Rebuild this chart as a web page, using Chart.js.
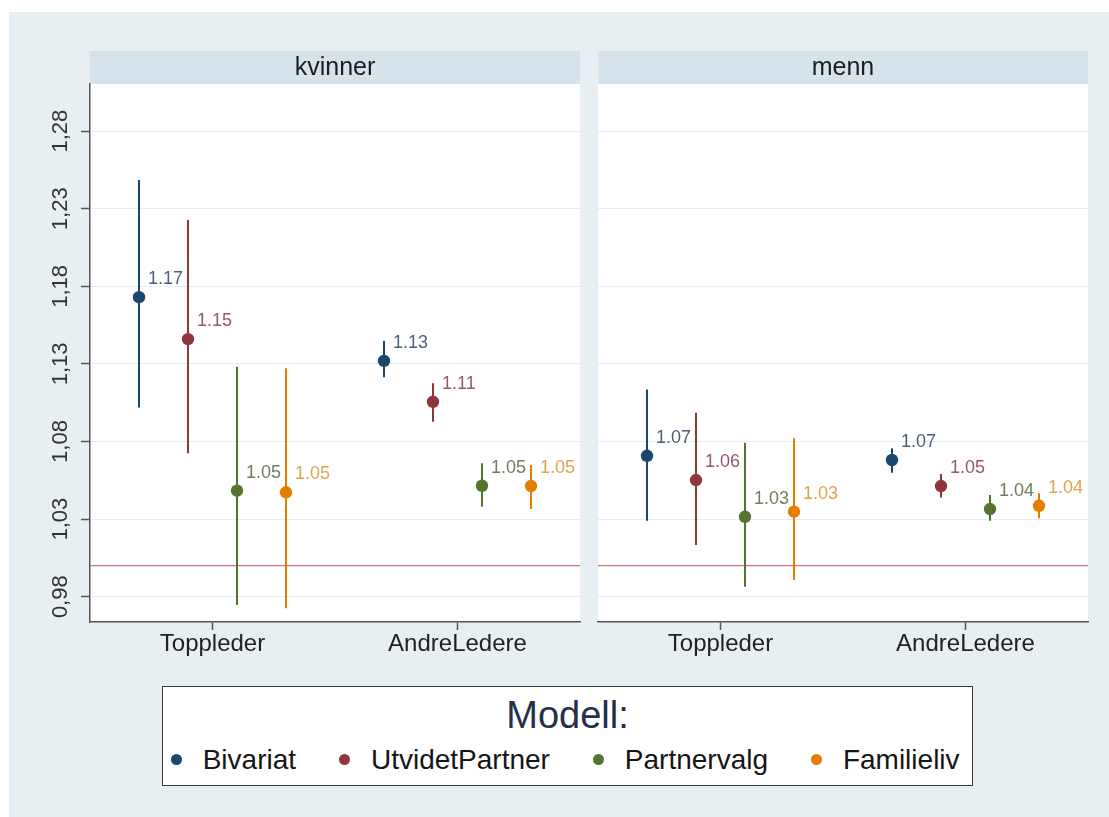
<!DOCTYPE html>
<html>
<head>
<meta charset="utf-8">
<title>Modell: kvinner og menn</title>
<script src="https://cdn.jsdelivr.net/npm/chart.js@4.4.1/dist/chart.umd.min.js"></script>
<style>
  html, body { margin: 0; padding: 0; background: #ffffff; }
  body { width: 1109px; height: 817px; position: relative; overflow: hidden;
         font-family: "Liberation Sans", Arial, Helvetica, sans-serif; }
  #graph { position: absolute; left: 9px; top: 12px; right: 0; bottom: 0; background: #e8eff2; }
  canvas { position: absolute; top: 0; }
  #panelLeft { left: 0; }
  #panelRight { left: 590px; }
  #legend { position: absolute; left: 162px; top: 686px; width: 811px; height: 100px;
            box-sizing: border-box; border: 1.5px solid #3a3a3a; background: #ffffff; }
  #legendTitle { position: absolute; left: 0; right: 0; top: 8.8px; text-align: center;
                 font-size: 38px; line-height: 38px; color: #252f4c; }
  #legendItems { position: absolute; left: 8.2px; top: 58.8px; display: flex; align-items: center;
                 font-size: 28px; line-height: 28px; color: #151515; white-space: nowrap; }
  .item { display: flex; align-items: center; margin-right: 43.4px; }
  .item:last-child { margin-right: 0; }
  .dot { width: 11px; height: 11px; border-radius: 50%; margin-right: 20.5px; }
</style>
</head>
<body>
<div id="graph"></div>
<canvas id="panelLeft" width="590" height="675"></canvas>
<canvas id="panelRight" width="519" height="675"></canvas>
<div id="legend">
  <div id="legendTitle"></div>
  <div id="legendItems"></div>
</div>
<script>
// Panels, categories and models
const panels = ['kvinner', 'menn'];
const categories = ['Toppleder', 'AndreLedere'];
const models = ['Bivariat', 'UtvidetPartner', 'Partnervalg', 'Familieliv'];
const legendTitle = 'Modell:';

// Estimates and confidence limits: one row per model, one column per category
const kvinnerEstimate = [[1.173, 1.132], [1.146, 1.1056], [1.0483, 1.0515], [1.0473, 1.0513]];
const kvinnerLower    = [[1.102, 1.1214], [1.0724, 1.0928], [0.9747, 1.038], [0.9725, 1.0365]];
const kvinnerUpper    = [[1.2485, 1.1448], [1.2227, 1.1175], [1.1282, 1.066], [1.1272, 1.0649]];

const mennEstimate = [[1.0708, 1.0681], [1.0552, 1.0513], [1.0315, 1.0365], [1.0348, 1.0386]];
const mennLower    = [[1.029, 1.0599], [1.0133, 1.044], [0.9864, 1.029], [0.9908, 1.0305]];
const mennUpper    = [[1.1136, 1.0756], [1.0986, 1.0591], [1.0792, 1.0455], [1.0821, 1.0466]];

// Axis setup
const yTicks = [0.98, 1.03, 1.08, 1.13, 1.18, 1.23, 1.28];
const yRange = [0.9637, 1.3104];
const xRange = [0.5, 2.5];
const referenceValue = 1.0;

// Stata s2color palette
const modelColors = ['#1a476f', '#90353b', '#55752f', '#e37e00'];
const labelColors = ['#4d5f76', '#945a64', '#6d7d5e', '#e5a24e'];
const FONT = '"Liberation Sans", Arial, Helvetica, sans-serif';

// Dodge the four models around each category position
const dodge = (modelIndex, catIndex) => catIndex + 1 + (modelIndex - 1.5) * 0.2;

function buildDatasets(est, lo, hi) {
  const sets = [{
    type: 'line',
    label: 'referanse',
    data: xRange.map(x => ({ x, y: referenceValue })),
    borderColor: '#c67880',
    borderWidth: 1.2,
    pointRadius: 0,
    order: 3
  }];
  models.forEach((m, i) => {
    const ci = [];
    categories.forEach((c, j) => {
      const x = dodge(i, j);
      ci.push({ x, y: lo[i][j] }, { x, y: hi[i][j] }, { x, y: null });
    });
    sets.push({
      type: 'scatter',
      label: m + ' KI',
      data: ci,
      showLine: true,
      spanGaps: false,
      borderColor: modelColors[i],
      borderWidth: 2,
      pointRadius: 0,
      pointHoverRadius: 0,
      order: 2
    });
    sets.push({
      type: 'scatter',
      label: m,
      data: categories.map((c, j) => ({ x: dodge(i, j), y: est[i][j] })),
      backgroundColor: modelColors[i],
      borderWidth: 0,
      pointRadius: 6.2,
      pointHoverRadius: 6.2,
      order: 1,
      valueLabel: true,
      labelColor: labelColors[i]
    });
  });
  return sets;
}

// White plot region plus the grey title strip above it
const panelFrame = {
  id: 'panelFrame',
  beforeDraw(chart, args, opts) {
    const { ctx, chartArea: a } = chart;
    ctx.save();
    ctx.fillStyle = '#ffffff';
    ctx.fillRect(a.left, a.top, a.right - a.left, a.bottom - a.top);
    const stripTop = 51;
    ctx.fillStyle = '#d7e3ea';
    ctx.fillRect(a.left, stripTop, a.right - a.left, a.top - stripTop);
    ctx.fillStyle = '#1e1e1e';
    ctx.font = '25px ' + FONT;
    ctx.textAlign = 'center';
    ctx.textBaseline = 'middle';
    ctx.fillText(opts.title, (a.left + a.right) / 2, (stripTop + a.top) / 2 + 1);
    ctx.restore();
  }
};

// Estimate written next to each marker
const valueLabels = {
  id: 'valueLabels',
  afterDatasetsDraw(chart) {
    const ctx = chart.ctx;
    chart.data.datasets.forEach((ds, di) => {
      if (!ds.valueLabel) return;
      const meta = chart.getDatasetMeta(di);
      ctx.save();
      ctx.font = '18px ' + FONT;
      ctx.fillStyle = ds.labelColor;
      ctx.textAlign = 'left';
      ctx.textBaseline = 'middle';
      meta.data.forEach((pt, k) => {
        ctx.fillText(ds.data[k].y.toFixed(2), pt.x + 9, pt.y - 18);
      });
      ctx.restore();
    });
  }
};

function buildScales(showY) {
  return {
    x: {
      type: 'linear',
      min: xRange[0],
      max: xRange[1],
      offset: false,
      afterBuildTicks: s => { s.ticks = categories.map((c, j) => ({ value: j + 1 })); },
      afterFit: s => { s.height = 40; },
      ticks: {
        callback: v => categories[Math.round(v) - 1],
        font: { size: 24, family: FONT },
        color: '#222222',
        padding: 0,
        maxRotation: 0,
        autoSkip: false
      },
      grid: { drawOnChartArea: false, drawTicks: true, tickLength: 8, tickColor: '#555555', tickWidth: 1.5, offset: false },
      border: { display: true, color: '#555555', width: 1.5 }
    },
    y: {
      type: 'linear',
      min: yRange[0],
      max: yRange[1],
      afterBuildTicks: s => { s.ticks = yTicks.map(v => ({ value: v })); },
      afterFit: s => { s.width = showY ? 40 : 0; },
      ticks: {
        display: showY,
        callback: v => v.toFixed(2).replace('.', ','),
        font: { size: 22, family: FONT },
        color: '#333333',
        minRotation: 90,
        maxRotation: 90,
        crossAlign: 'center',
        padding: -1
      },
      grid: { color: '#e6edf0', lineWidth: 1, drawTicks: showY, tickLength: 9, tickColor: '#555555', tickWidth: 1.5 },
      border: { display: showY, color: '#555555', width: 1.5 }
    }
  };
}

function makePanel(canvasId, title, est, lo, hi, showY, padding) {
  return new Chart(document.getElementById(canvasId), {
    type: 'scatter',
    data: { datasets: buildDatasets(est, lo, hi) },
    options: {
      responsive: false,
      maintainAspectRatio: false,
      animation: false,
      events: [],
      layout: { padding },
      scales: buildScales(showY),
      plugins: {
        legend: { display: false },
        tooltip: { enabled: false },
        panelFrame: { title }
      }
    },
    plugins: [panelFrame, valueLabels]
  });
}

makePanel('panelLeft', panels[0], kvinnerEstimate, kvinnerLower, kvinnerUpper, true,
  { left: 50, right: 10, top: 84, bottom: 13 });
makePanel('panelRight', panels[1], mennEstimate, mennLower, mennUpper, false,
  { left: 8, right: 21, top: 84, bottom: 13 });

// Legend
document.getElementById('legendTitle').textContent = legendTitle;
const itemsEl = document.getElementById('legendItems');
models.forEach((m, i) => {
  const item = document.createElement('div');
  item.className = 'item';
  const dot = document.createElement('span');
  dot.className = 'dot';
  dot.style.background = modelColors[i];
  const txt = document.createElement('span');
  txt.textContent = m;
  item.appendChild(dot);
  item.appendChild(txt);
  itemsEl.appendChild(item);
});
</script>
</body>
</html>
